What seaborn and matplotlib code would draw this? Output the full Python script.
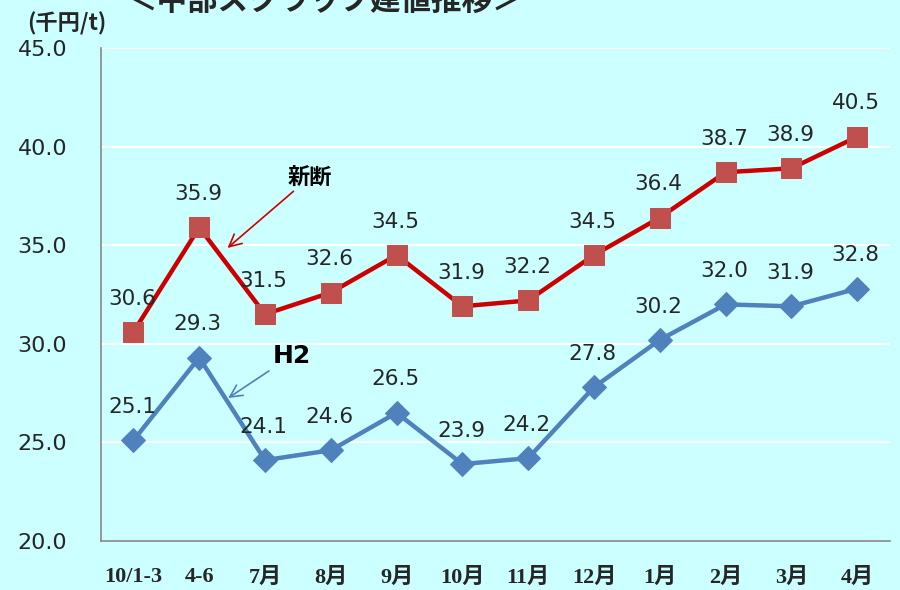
import matplotlib
matplotlib.use("Agg")
import matplotlib.pyplot as plt
import seaborn as sns
import pandas as pd

# 中部スクラップ建値 (千円/t)
months = ["10/1-3", "4-6", "7月", "8月", "9月", "10月", "11月", "12月", "1月", "2月", "3月", "4月"]
shindan = [30.6, 35.9, 31.5, 32.6, 34.5, 31.9, 32.2, 34.5, 36.4, 38.7, 38.9, 40.5]
h2 = [25.1, 29.3, 24.1, 24.6, 26.5, 23.9, 24.2, 27.8, 30.2, 32.0, 31.9, 32.8]
y_ticks = [20.0, 25.0, 30.0, 35.0, 40.0, 45.0]

bg = "#CCFFFF"
red_line, red_marker = "#CC0000", "#C0504D"
blue = "#4F81BD"

sns.set_style("white")
plt.rcParams['font.family'] = ['DejaVu Sans', 'Noto Sans CJK JP']

df = pd.DataFrame({"pos": range(len(months)), "month": months, "新断": shindan, "H2": h2})

fig = plt.figure(figsize=(9, 5.9), dpi=100, facecolor=bg)
ax = fig.add_axes([0.1117, 0.0831, 0.8773, 0.8355])
ax.set_facecolor(bg)

sns.lineplot(data=df, x="pos", y="新断", ax=ax, color=red_line, lw=3.2,
             marker="s", markersize=14, markerfacecolor=red_marker, markeredgecolor=red_marker)
sns.lineplot(data=df, x="pos", y="H2", ax=ax, color=blue, lw=3.2,
             marker="D", markersize=12, markerfacecolor=blue, markeredgecolor=blue)

# data labels above each point
for series in (shindan, h2):
    for i, v in enumerate(series):
        ax.annotate(f"{v:.1f}", (i, v), xytext=(-1, 24), textcoords="offset points",
                    ha="center", va="center", fontsize=15.5, color="#262626")

ax.set_xlim(-0.5, len(months) - 0.5)
ax.set_ylim(y_ticks[0], y_ticks[-1])
ax.set_yticks(y_ticks)
ax.set_yticklabels([f"{t:.1f}" for t in y_ticks], fontsize=16, color="#262626")
ax.set_xticks(df["pos"])
ax.set_xticklabels(months, fontsize=16, fontweight="bold",
                   family=["Liberation Serif", "Noto Sans CJK JP"])
ax.set_xticks([p - 0.5 for p in range(len(months) + 1)], minor=True)
ax.tick_params(axis="x", which="major", length=0, pad=19)
ax.tick_params(axis="x", which="minor", length=7, width=1, color="#888888", direction="out")
ax.tick_params(axis="y", length=7, width=1, color="#888888", direction="out", pad=17)
ax.set_xlabel("")
ax.set_ylabel("")

ax.grid(axis="y", color="white", lw=1.5)
ax.set_axisbelow(True)
sns.despine(ax=ax)
for side in ("left", "bottom"):
    ax.spines[side].set_color("#888888")
    ax.spines[side].set_linewidth(1.2)

# series callouts
ax.annotate("新断", xy=(1.43, 34.86), xytext=(2.34, 37.9), fontsize=16, fontweight="bold",
            ha="left", va="bottom", color="black",
            arrowprops=dict(arrowstyle="->", color=red_line, lw=1.2, mutation_scale=22,
                            shrinkA=0, shrinkB=0))
ax.annotate("H2", xy=(1.44, 27.25), xytext=(2.11, 28.77), fontsize=18, fontweight="bold",
            ha="left", va="bottom", color="black",
            arrowprops=dict(arrowstyle="->", color=blue, lw=1.2, mutation_scale=22,
                            shrinkA=0, shrinkB=0))

fig.text(0.0744, 0.959, "(千円/t)", fontsize=16, fontweight="bold", ha="center", va="center",
         family=["Noto Sans CJK JP", "DejaVu Sans"])
fig.text(0.361, 0.972, "＜中部スクラップ建値推移＞", fontsize=22, fontweight="bold",
         ha="center", va="bottom", family=["Noto Sans CJK JP", "DejaVu Sans"])

fig.savefig("out.png", dpi=100, facecolor=bg)
